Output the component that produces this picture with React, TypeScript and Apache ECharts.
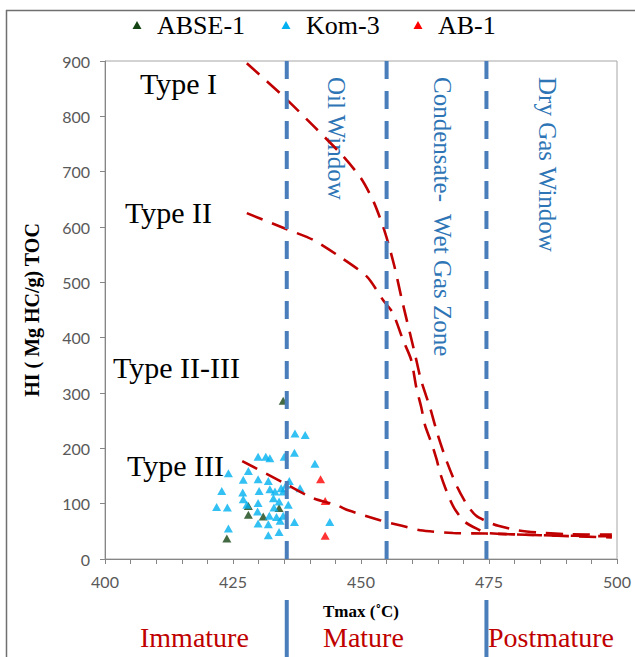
import React, { useEffect, useRef } from "react";
import * as echarts from "echarts";

// Sample wells: [Tmax (°C), HI (mg HC/g TOC)]
const wellNames = ["ABSE-1", "Kom-3", "AB-1"];
const wellColors = ["#154515", "#00B0F0", "#FF0000"];

const abse1: [number, number][] = [
  [434.8, 286], [428.0, 96], [428.0, 80], [430.9, 77], [434.0, 92], [423.8, 37],
];

const kom3: [number, number][] = [
  [437.1, 227], [439.1, 224], [429.9, 185], [431.4, 185], [432.2, 182], [435.0, 185],
  [437.0, 192], [441.0, 172], [424.1, 155], [428.0, 159], [427.0, 143], [429.9, 144],
  [431.9, 141], [436.0, 141], [435.4, 134], [434.4, 128], [422.8, 123], [426.9, 120],
  [430.1, 123], [432.2, 126], [433.2, 122], [434.8, 122], [438.1, 128], [427.0, 108],
  [432.9, 110], [434.0, 104], [421.8, 94], [423.9, 93], [427.7, 98], [429.9, 101],
  [433.0, 93], [435.8, 98], [429.8, 86], [432.1, 78], [434.8, 78], [429.9, 64],
  [431.9, 63], [434.2, 69], [437.0, 67], [443.9, 67], [424.1, 55], [434.0, 49],
  [431.9, 43], [433.5, 76],
];

const ab1: [number, number][] = [
  [442.1, 144], [443.0, 105], [443.0, 42],
];

// Kerogen type maturation pathways
const typeI: [number, number][] = [
  [427.7, 896], [435.2, 833], [441.0, 780], [446.5, 728], [450.0, 688], [452.5, 645],
  [454.7, 590], [456.5, 530], [458.0, 468], [460.5, 372], [461.7, 324], [463.5, 273],
  [465.0, 224], [466.8, 175], [468.8, 130], [470.7, 98], [472.5, 78], [474.8, 67],
  [476.8, 60], [480.5, 52], [484.4, 48], [490.0, 45], [499.0, 44],
];

const typeII: [number, number][] = [
  [427.7, 625], [435.5, 596], [440.6, 577], [445.9, 546], [451.2, 510], [454.3, 468],
  [456.2, 445], [458.2, 396], [459.8, 360], [460.8, 310], [461.8, 273], [462.5, 242],
  [463.9, 206], [464.8, 179], [465.4, 157], [466.4, 130], [467.4, 107], [468.4, 89],
  [470.3, 67], [473.2, 52], [474.4, 47], [485.0, 43], [499.0, 41],
];

const typeIII: [number, number][] = [
  [426.8, 177], [435.2, 136], [440.6, 110], [445.3, 97], [447.5, 88], [453.7, 70],
  [458.0, 60], [461.5, 52], [468.0, 47], [474.4, 46], [485.0, 43], [499.0, 39],
];

// Maturity zone boundaries on the Tmax axis
const zoneBoundaries = [435.5, 455, 474.5];

const xMin = 400;
const xMax = 500;
const xStep = 25;
const yMin = 0;
const yMax = 900;
const yStep = 100;

const typeLabels = ["Type I", "Type II", "Type II-III", "Type III"];
const zoneLabels = ["Oil Window", "Condensate-  Wet Gas Zone", "Dry Gas Window"];
const stageLabels = ["Immature", "Mature", "Postmature"];

const RED = "#C00000";
const BLUE = "#4A7EBB";
const ZONE_TEXT = "#2E75B6";
const SERIF = "Liberation Serif";

export default function App() {
  const ref = useRef<HTMLDivElement>(null);

  useEffect(() => {
    document.body.style.margin = "0";
    const chart = echarts.init(ref.current!, null, { renderer: "svg" });

    const curve = (name: string, data: [number, number][]) => ({
      name,
      type: "line",
      data,
      smooth: 0.25,
      showSymbol: false,
      silent: true,
      lineStyle: { color: RED, width: 2.6, type: [17, 10] },
      z: 3,
    });

    const boundary = (x: number, i: number) => ({
      name: "boundary" + i,
      type: "line",
      data: [[x, yMin], [x, yMax]],
      showSymbol: false,
      silent: true,
      lineStyle: { color: BLUE, width: 4, type: [18, 12] },
      z: 4,
    });

    const scatter = (i: number, data: [number, number][]) => ({
      name: wellNames[i],
      type: "scatter",
      data,
      symbol: "triangle",
      symbolSize: [9, 8],
      itemStyle: { color: wellColors[i] },
      z: 2,
    });

    chart.setOption({
      animation: false,
      backgroundColor: "#ffffff",
      textStyle: { fontFamily: SERIF },
      grid: {
        left: 105,
        top: 61,
        right: 18,
        bottom: 98,
        show: true,
        borderColor: "#a6a6a6",
        borderWidth: 1,
      },
      xAxis: {
        type: "value",
        min: xMin,
        max: xMax,
        interval: xStep,
        name: "Tmax (˚C)",
        nameLocation: "middle",
        nameGap: 44,
        nameTextStyle: { fontFamily: SERIF, fontSize: 17, fontWeight: "bold", color: "#000" },
        axisLine: { lineStyle: { color: "#868686", width: 1 } },
        axisTick: { show: true, length: 5, lineStyle: { color: "#868686" } },
        minorTick: { show: true, splitNumber: 5, length: 5, lineStyle: { color: "#868686" } },
        axisLabel: { fontFamily: "Lato", fontSize: 16, color: "#595959", margin: 14 },
        splitLine: { show: false },
      },
      yAxis: {
        type: "value",
        min: yMin,
        max: yMax,
        interval: yStep,
        name: "HI ( Mg HC/g) TOC",
        nameLocation: "middle",
        nameGap: 63,
        nameTextStyle: { fontFamily: SERIF, fontSize: 20, fontWeight: "bold", color: "#000" },
        axisLine: { show: true, lineStyle: { color: "#868686", width: 1 } },
        axisTick: { show: true, length: 5, lineStyle: { color: "#868686" } },
        axisLabel: { fontFamily: "Lato", fontSize: 16, color: "#595959", margin: 15 },
        splitLine: { show: false },
      },
      series: [
        scatter(0, abse1),
        scatter(1, kom3),
        scatter(2, ab1),
        curve("Type I", typeI),
        curve("Type II", typeII),
        curve("Type III", typeIII),
        ...zoneBoundaries.map(boundary),
      ],
    });

    const px = (v: number) => chart.convertToPixel({ xAxisIndex: 0 }, v) as number;

    const typeText = (text: string, x: number, y: number) => ({
      type: "text",
      x,
      y,
      silent: true,
      style: { text, fill: "#000", font: `30px "${SERIF}"`, align: "left", verticalAlign: "middle" },
    });

    const zoneText = (text: string, x: number) => ({
      type: "text",
      x,
      y: 77,
      rotation: -Math.PI / 2,
      silent: true,
      style: { text, fill: ZONE_TEXT, font: `25px "${SERIF}"`, align: "left", verticalAlign: "middle" },
    });

    const stageText = (text: string, x: number) => ({
      type: "text",
      x,
      y: 637,
      silent: true,
      style: { text, fill: RED, font: `28px "${SERIF}"`, align: "left", verticalAlign: "middle" },
    });

    const bottomBar = (v: number) => ({
      type: "line",
      silent: true,
      shape: { x1: px(v), y1: 600, x2: px(v), y2: 657 },
      style: { stroke: BLUE, lineWidth: 4 },
    });

    // key along the top: triangle marker followed by the well name
    const keyX = [137, 286, 418];
    const keyItems = wellNames.flatMap((name, i) => [
      {
        type: "polygon",
        silent: true,
        shape: { points: [[keyX[i] - 4.5, 29], [keyX[i], 21], [keyX[i] + 4.5, 29]] },
        style: { fill: wellColors[i] },
      },
      {
        type: "text",
        x: keyX[i] + 20,
        y: 25,
        silent: true,
        style: { text: name, fill: "#000", font: `26px "${SERIF}"`, align: "left", verticalAlign: "middle" },
      },
    ]);

    chart.setOption({
      graphic: [
        // outer frame
        { type: "line", silent: true, shape: { x1: 6.5, y1: 10, x2: 6.5, y2: 657 }, style: { stroke: "#6f6f6f", lineWidth: 1.5 } },
        { type: "line", silent: true, shape: { x1: 6, y1: 10.5, x2: 635, y2: 10.5 }, style: { stroke: "#6f6f6f", lineWidth: 1.5 } },
        ...keyItems,
        typeText(typeLabels[0], 140, 83),
        typeText(typeLabels[1], 125, 212),
        typeText(typeLabels[2], 113, 367),
        typeText(typeLabels[3], 127, 465),
        zoneText(zoneLabels[0], (px(zoneBoundaries[0]) + px(zoneBoundaries[1])) / 2 - 0.5),
        zoneText(zoneLabels[1], px(zoneBoundaries[1]) + 56),
        zoneText(zoneLabels[2], px(zoneBoundaries[2]) + 61),
        stageText(stageLabels[0], 140),
        stageText(stageLabels[1], 323),
        stageText(stageLabels[2], 488),
        bottomBar(zoneBoundaries[0]),
        bottomBar(zoneBoundaries[2]),
      ],
    });

    return () => chart.dispose();
  }, []);

  return <div ref={ref} style={{ width: 635, height: 657 }} />;
}
